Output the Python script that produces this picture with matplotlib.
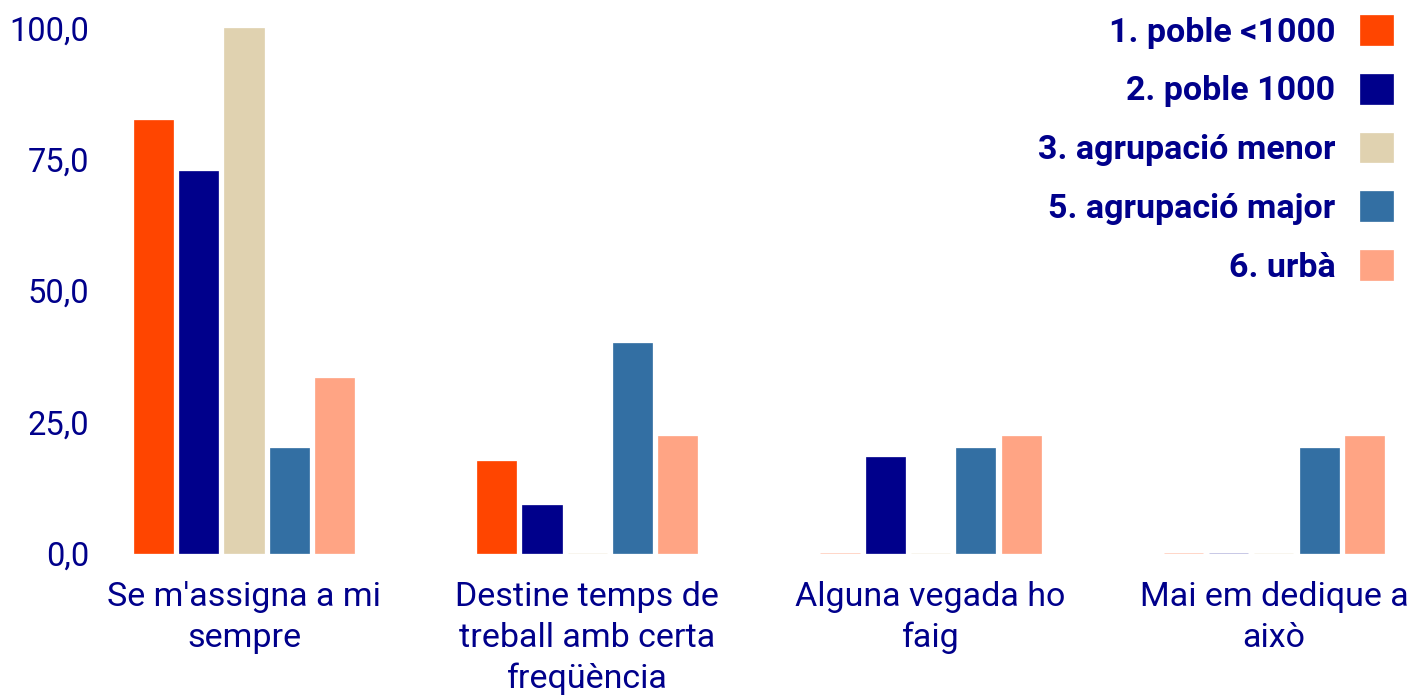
import numpy as np
import matplotlib
matplotlib.use("Agg")
import matplotlib.pyplot as plt

plt.rcParams['font.family'] = ['Roboto', 'DejaVu Sans']

# categories and series (percentages)
categories = ["Se m'assigna a mi\nsempre",
              "Destine temps de\ntreball amb certa\nfreqüència",
              "Alguna vegada ho\nfaig",
              "Mai em dedique a\naixò"]
series_names = ["1. poble <1000", "2. poble 1000", "3. agrupació menor",
                "5. agrupació major", "6. urbà"]
poble_menys_1000 = [82.5, 17.5, 0.0, 0.0]
poble_1000 = [72.7, 9.1, 18.2, 0.0]
agrupacio_menor = [100.0, 0.0, 0.0, 0.0]
agrupacio_major = [20.0, 40.0, 20.0, 20.0]
urba = [33.3, 22.2, 22.2, 22.2]
yticks = [0, 25, 50, 75, 100]

values = [poble_menys_1000, poble_1000, agrupacio_menor, agrupacio_major, urba]
colors = ["#FF4500", "#00008B", "#E0D2B0", "#336FA3", "#FFA484"]
text_color = "#00008B"

W, H = 1424, 695
fig = plt.figure(figsize=(W / 100, H / 100), dpi=100)
# axes placed in pixels: left 100, right 1415, bottom y=553, top y=28
ax = fig.add_axes([100 / W, (H - 553) / H, (1415 - 100) / W, (553 - 28) / H])

x = np.arange(len(categories))
step = 0.132
width = 0.114
for i, (vals, col, name) in enumerate(zip(values, colors, series_names)):
    offs = (i - 2) * step
    bars = ax.bar(x + offs, vals, width, color=col, label=name,
                  edgecolor=col, linewidth=0.5)
    for b, v in zip(bars, vals):
        b.set_clip_on(False)
        if v == 0:
            b.set_alpha(0.3)  # empty bars show as a faint line like the original

ax.set_xlim((100 - 244) / 343.3, (1415 - 244) / 343.3)
ax.set_ylim(0, 100)
ax.set_yticks(yticks)
ax.set_yticklabels([("%.1f" % v).replace(".", ",") for v in yticks])
ax.set_xticks(x)
ax.set_xticklabels(categories, linespacing=1.35)
ax.tick_params(axis='y', length=0, pad=8, labelsize=23.5, labelcolor=text_color)
ax.tick_params(axis='x', length=0, pad=20, labelsize=24.5, labelcolor=text_color)
for s in ax.spines.values():
    s.set_visible(False)

leg = ax.legend(loc='upper right', bbox_to_anchor=(1393 / W, 1 - 15 / H),
                bbox_transform=fig.transFigure, frameon=False, markerfirst=False,
                borderpad=0, borderaxespad=0, handlelength=0.97, handleheight=0.97,
                handletextpad=0.72, labelspacing=0.74,
                prop={'size': 24.5, 'weight': 'bold'})
for t in leg.get_texts():
    t.set_color(text_color)
for h in leg.legend_handles:
    h.set_alpha(1)

fig.savefig("out.png", dpi=100)
